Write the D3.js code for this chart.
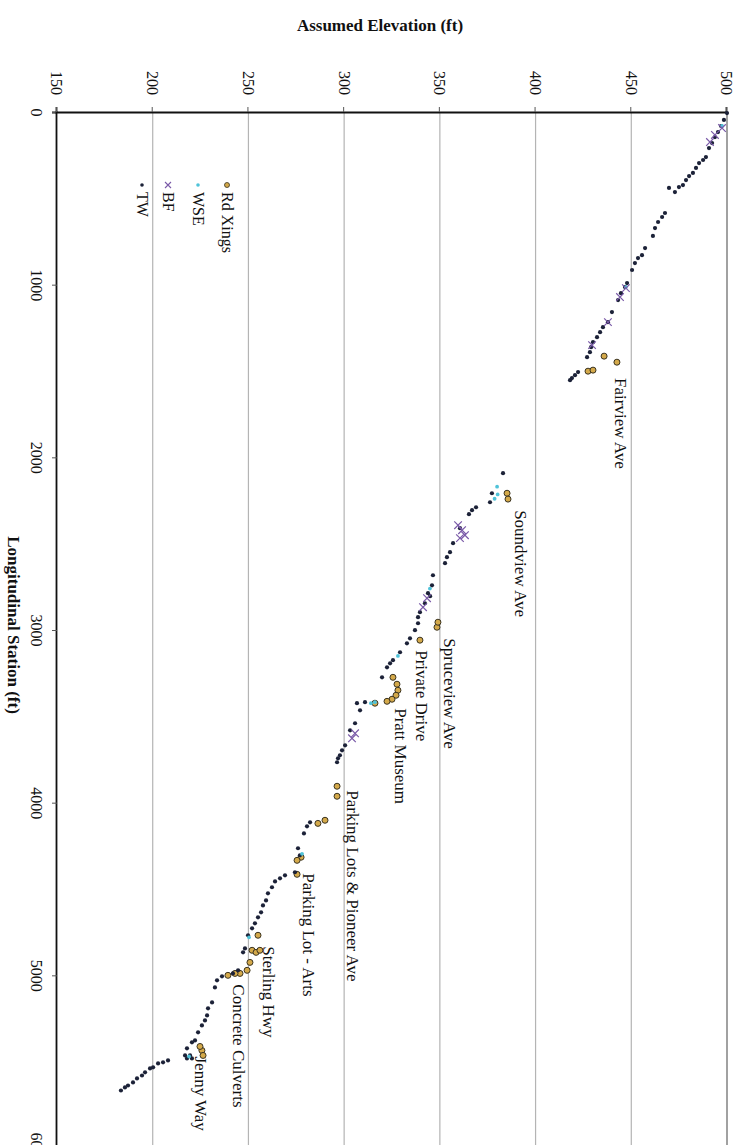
<!DOCTYPE html>
<html>
<head>
<meta charset="utf-8">
<script src="https://cdn.jsdelivr.net/npm/d3@7"></script>
<style>
  html, body { margin: 0; padding: 0; background: #fff; }
  svg { display: block; }
  text { font-family: "Liberation Serif", "Times New Roman", serif; fill: #111; }
</style>
</head>
<body>
<svg id="chart" width="742" height="1145"></svg>
<script>
// ---------- DATA ----------
const stationTicks = [0, 1000, 2000, 3000, 4000, 5000, 6000];
const elevationTicks = [150, 200, 250, 300, 350, 400, 450, 500];

// Thalweg (TW): [station, elevation]
const twStations = [6,46,81,116,145,180,209,261,278,296,324,353,371,394,423,435,464,440,
  585,608,637,672,718,788,829,846,875,915,991,1014,1049,1089,1159,1217,1246,1275,1304,1333,1362,1391,1420,
  1506,1524,1541,1553,
  2092,2208,2260,2289,2306,2329,2410,2497,2549,2578,2613,2683,2741,2787,2804,2845,2897,2926,2961,3001,3048,3077,3129,3175,3193,3216,3274,
  3418,3424,3465,3540,3581,3668,3697,3726,3743,3766,
  4114,4137,4178,4264,4305,4403,4421,4438,4456,4490,4525,4566,4595,4635,4664,4699,4728,4768,4844,4867,4971,4989,
  5006,5029,5070,5157,5191,5232,5261,5290,5330,5377,5388,5423,5464,5464,5481,5481,5493,5504,5510,5533,5539,5562,5580,5597,5620,5638,5649,5667];
const twElevations = [500.0,498.4,496.9,495.3,493.7,492.2,490.6,489.0,487.5,485.4,483.8,482.2,480.2,478.6,477.0,474.9,472.8,469.7,
  467.6,466.1,464.0,462.4,461.3,457.2,455.6,453.5,451.9,450.4,447.8,446.7,444.6,443.1,439.9,437.8,435.2,433.7,432.1,430.0,429.0,428.4,426.9,
  422.2,420.6,419.0,418.0,
  383.0,377.2,376.2,368.9,366.8,365.2,360.5,356.9,355.3,353.7,352.7,346.4,345.9,343.8,344.9,342.2,339.6,338.6,338.6,337.0,334.4,332.8,329.2,325.5,324.0,322.4,319.8,
  310.9,306.7,308.3,305.7,303.1,300.5,298.9,297.8,296.8,296.3,
  282.2,280.6,279.0,275.9,276.9,274.3,269.1,266.5,263.9,262.3,260.2,259.2,257.6,256.6,255.0,253.4,251.9,249.8,248.2,247.2,244.6,241.9,
  236.2,233.6,232.5,231.0,228.9,228.4,227.3,225.7,223.7,222.1,220.5,217.9,216.9,219.5,217.9,220.5,208.0,205.4,202.8,200.2,198.6,196.0,194.4,191.8,189.7,187.1,185.5,183.4];

// Water surface elevation (WSE)
const wseStations = [81,1014,2170,2215,2240,2760,3150,3418,3424,4296,4780,5470];
const wseElevations = [497.4,447.2,379.9,380.2,378.6,344.8,328.1,316.1,314.0,278.0,250.3,219.0];

// Bankfull (BF)
const bfStations = [93,133,174,1020,1072,1217,1350,2393,2422,2451,2468,2816,2868,3598,3627];
const bfElevations = [497.4,493.7,491.1,447.2,444.1,437.8,429.5,359.5,361.6,363.1,360.5,343.3,341.2,305.7,304.1];

// Road crossings (Rd Xings)
const rdStations = [1414,1449,1501,1495, 2208,2242, 2984,2955, 3059,
  3274,3314,3349,3378,3401,3413,3424, 3905,3963, 4102,4120,4316,4334,4415,
  4768,4855,4867,4855, 4925,4971,4989,4989,5000, 5435,5412,5464];
const rdElevations = [435.8,442.5,427.4,430.0, 385.1,385.6, 348.5,349.0, 339.6,
  325.5,327.6,328.1,327.1,325.0,322.4,316.1, 296.3,296.3, 290.0,286.3,277.5,275.4,275.4,
  255.0,251.9,254.0,256.0, 250.8,249.3,245.6,243.0,239.3, 225.7,224.7,226.3];

// Crossing labels and their anchor [station, elevation]
const labelNames = ["Fairview Ave","Soundview Ave","Spruceview Ave","Private Drive","Pratt Museum",
  "Parking Lots & Pioneer Ave","Parking Lot - Arts","Sterling Hwy","Concrete Culverts","Jenny Way"];
const labelStations = [1541,2306,3048,3117,3453,3928,4409,4832,5052,5470];
const labelElevations = [444.1,391.9,354.8,340.2,329.2,304.6,281.6,260.7,244.6,225.2];

const legendNames = ["Rd Xings","WSE","BF","TW"];

// ---------- CHART ----------
const W = 1145, H = 742; // unrotated frame (station horizontal)
const svg = d3.select("#chart");
const g = svg.append("g").attr("transform", "translate(742,0) rotate(90)");

const x = d3.scaleLinear().domain([0, 6000]).range([112, 1148]);
const y = d3.scaleLinear().domain([150, 500]).range([685, 15]);

// gridlines
g.append("g").selectAll("line").data(elevationTicks.filter(d => d > 150)).join("line")
  .attr("x1", x(0)).attr("x2", x(6000))
  .attr("y1", d => y(d)).attr("y2", d => y(d))
  .attr("stroke", d => d === 500 ? "#8a8a8a" : "#b4b4b4")
  .attr("stroke-width", d => d === 500 ? 1.6 : 1.2);

// axes
const xAxis = g.append("g").attr("transform", `translate(0,${y(150)})`)
  .call(d3.axisBottom(x).tickValues(stationTicks).tickFormat(d3.format("d")).tickSize(5).tickPadding(10));
const yAxis = g.append("g").attr("transform", `translate(${x(0)},0)`)
  .call(d3.axisLeft(y).tickValues(elevationTicks).tickFormat(d3.format("d")).tickSize(5).tickPadding(12));
[xAxis, yAxis].forEach(a => {
  a.select(".domain").attr("stroke", "#111").attr("stroke-width", 1.8);
  a.selectAll(".tick line").attr("stroke", "#555");
  a.selectAll(".tick text").style("font-family", '"Liberation Serif", serif').style("font-size", "16px").attr("fill", "#222");
});

// axis titles
g.append("text").attr("transform", `translate(25,${742 - 380}) rotate(-90)`)
  .attr("text-anchor", "middle").attr("dominant-baseline", "central")
  .style("font-size", "17px").style("font-weight", "bold").text("Assumed Elevation (ft)");
g.append("text").attr("x", 625).attr("y", 742 - 13)
  .attr("text-anchor", "middle").attr("dominant-baseline", "central")
  .style("font-size", "17px").style("font-weight", "bold").text("Longitudinal Station (ft)");

// series
const rd = rdStations.map((s, i) => [s, rdElevations[i]]);
const tw = twStations.map((s, i) => [s, twElevations[i]]);
const wse = wseStations.map((s, i) => [s, wseElevations[i]]);
const bf = bfStations.map((s, i) => [s, bfElevations[i]]);

g.append("g").selectAll("circle").data(rd).join("circle")
  .attr("cx", d => x(d[0])).attr("cy", d => y(d[1])).attr("r", 3)
  .attr("fill", "#d4a94a").attr("stroke", "#3a3320").attr("stroke-width", 1);

g.append("g").selectAll("circle").data(tw).join("circle")
  .attr("cx", d => x(d[0])).attr("cy", d => y(d[1])).attr("r", 2.1)
  .attr("fill", "#1c2238");

g.append("g").selectAll("circle").data(wse).join("circle")
  .attr("cx", d => x(d[0])).attr("cy", d => y(d[1])).attr("r", 1.9)
  .attr("fill", "#4fc3d9");

const xm = 3.8;
g.append("g").selectAll("path").data(bf).join("path")
  .attr("d", d => { const cx = x(d[0]), cy = y(d[1]);
    return `M${cx-xm},${cy-xm}L${cx+xm},${cy+xm}M${cx-xm},${cy+xm}L${cx+xm},${cy-xm}`; })
  .attr("stroke", "#7a5aa8").attr("stroke-width", 1.2).attr("fill", "none");

// crossing labels
g.append("g").selectAll("text").data(labelNames).join("text")
  .attr("x", (d, i) => x(labelStations[i])).attr("y", (d, i) => y(labelElevations[i]))
  .attr("dominant-baseline", "central").style("font-size", "17px").text(d => d);

// legend
const legV = [742 - 227, 742 - 198, 742 - 168, 742 - 142];
const leg = g.append("g");
legendNames.forEach((name, i) => {
  const cy = legV[i], cx = 185;
  if (name === "Rd Xings") leg.append("circle").attr("cx", cx).attr("cy", cy).attr("r", 2.5).attr("fill", "#d4a94a").attr("stroke", "#3a3320").attr("stroke-width", 0.8);
  if (name === "WSE") leg.append("circle").attr("cx", cx).attr("cy", cy).attr("r", 1.8).attr("fill", "#4fc3d9");
  if (name === "BF") leg.append("path").attr("d", `M${cx-3},${cy-3}L${cx+3},${cy+3}M${cx-3},${cy+3}L${cx+3},${cy-3}`).attr("stroke", "#7a5aa8").attr("stroke-width", 1.1);
  if (name === "TW") leg.append("circle").attr("cx", cx).attr("cy", cy).attr("r", 1.8).attr("fill", "#1c2238");
  leg.append("text").attr("x", cx + 7).attr("y", cy).attr("dominant-baseline", "central").style("font-size", "16px").text(name);
});
</script>
</body>
</html>
